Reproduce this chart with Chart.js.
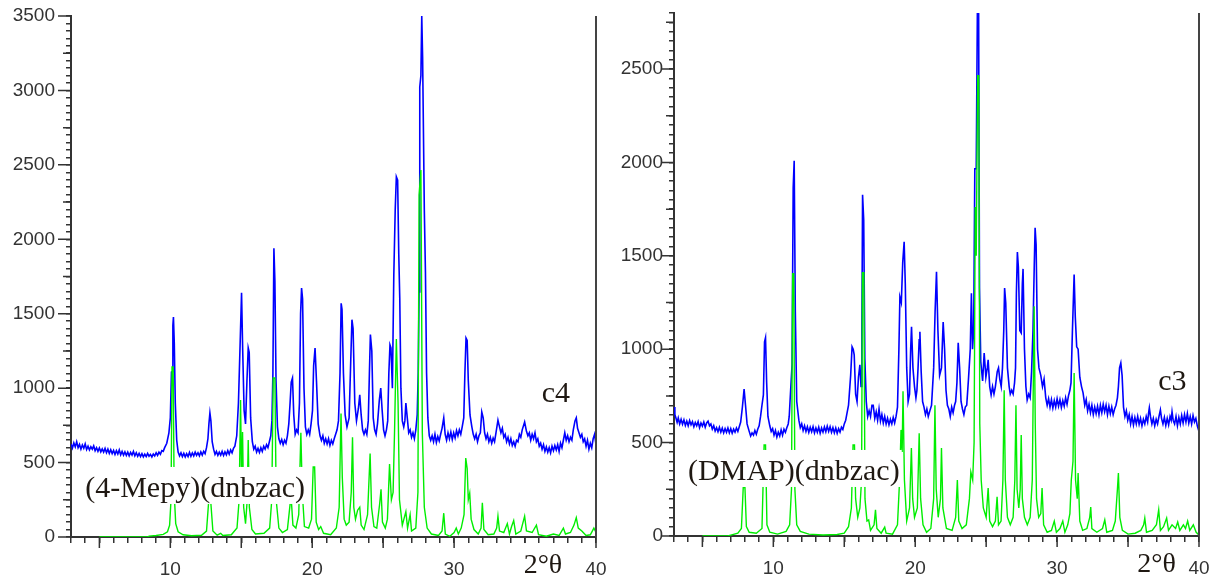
<!DOCTYPE html>
<html>
<head>
<meta charset="utf-8">
<script src="https://cdn.jsdelivr.net/npm/chart.js@4.4.1/dist/chart.umd.min.js"></script>
<style>
  html, body { margin: 0; padding: 0; background: #fff; }
  body { width: 1220px; height: 581px; position: relative; overflow: hidden; }
  .panel { position: absolute; top: 0; width: 610px; height: 581px; }
  #panelC4 { left: 0; }
  #panelC3 { left: 603px; }
</style>
</head>
<body>
<div class="panel" id="panelC4"><canvas id="chartC4"></canvas></div>
<div class="panel" id="panelC3"><canvas id="chartC3"></canvas></div>
<script>
// tick labels
const xLabelValues = [10, 20, 30, 40];
const xMajorTicks = [5, 10, 15, 20, 25, 30, 35, 40];
const c4YLabels = [0, 500, 1000, 1500, 2000, 2500, 3000, 3500];
const c3YLabels = [0, 500, 1000, 1500, 2000, 2500];

// c4 : measured pattern (2θ, counts)
const c4Measured = [
  [3.0,625],[3.1,598],[3.2,632],[3.3,605],[3.4,640],[3.5,600],[3.6,622],[3.7,590],[3.8,618],[3.9,596],
  [4.0,625],[4.1,588],[4.2,610],[4.3,585],[4.4,606],[4.5,590],[4.6,612],[4.7,580],[4.8,600],[4.9,575],
  [5.0,598],[5.1,572],[5.2,592],[5.3,570],[5.4,595],[5.5,566],[5.6,590],[5.7,562],[5.8,586],[5.9,560],
  [6.0,582],[6.1,555],[6.2,580],[6.3,558],[6.4,585],[6.5,552],[6.6,575],[6.7,550],[6.8,572],[6.9,548],
  [7.0,570],[7.1,545],[7.2,568],[7.3,550],[7.4,575],[7.5,545],[7.6,566],[7.7,542],[7.8,562],[7.9,540],
  [8.0,560],[8.1,538],[8.2,556],[8.3,540],[8.4,562],[8.5,542],[8.6,555],[8.7,538],[8.8,558],[8.9,545],
  [9.0,566],[9.1,548],[9.2,570],[9.3,556],[9.4,580],[9.5,575],[9.6,600],[9.75,630],[9.9,700],[10.0,800],
  [10.08,1108],[10.13,1110],[10.18,1420],[10.22,1478],[10.28,1300],[10.35,900],[10.45,650],[10.55,570],[10.65,545],[10.75,565],
  [10.85,540],[10.95,562],[11.05,538],[11.15,560],[11.25,540],[11.35,568],[11.45,542],[11.55,565],[11.65,545],[11.75,570],
  [11.85,548],[11.95,566],[12.05,545],[12.15,572],[12.25,550],[12.35,576],[12.45,560],[12.55,600],[12.65,660],[12.72,760],
  [12.79,833],[12.86,780],[12.95,640],[13.05,590],[13.15,555],[13.25,575],[13.35,548],[13.45,570],[13.55,550],[13.65,575],
  [13.75,548],[13.85,572],[13.95,552],[14.05,580],[14.15,556],[14.25,585],[14.35,565],[14.45,595],[14.55,610],[14.68,680],
  [14.8,900],[14.92,1300],[15.02,1640],[15.1,1256],[15.2,850],[15.3,760],[15.4,1050],[15.49,1270],[15.56,1240],[15.66,800],
  [15.78,640],[15.88,590],[15.98,610],[16.08,570],[16.18,595],[16.28,568],[16.38,600],[16.48,575],[16.58,610],[16.68,590],
  [16.78,620],[16.88,600],[16.98,640],[17.08,680],[17.16,780],[17.23,1100],[17.3,1940],[17.37,1720],[17.45,1050],[17.55,740],
  [17.65,660],[17.75,630],[17.85,655],[17.95,620],[18.05,650],[18.15,630],[18.25,680],[18.35,760],[18.44,900],[18.52,1040],
  [18.61,1068],[18.7,820],[18.8,690],[18.9,720],[19.0,700],[19.1,900],[19.18,1500],[19.25,1672],[19.32,1600],[19.42,1000],
  [19.52,740],[19.62,690],[19.72,720],[19.82,690],[19.92,760],[20.02,850],[20.1,1150],[20.2,1270],[20.3,1050],[20.42,760],
  [20.55,680],[20.65,650],[20.75,680],[20.85,630],[20.95,660],[21.05,625],[21.15,660],[21.25,615],[21.35,650],[21.45,625],
  [21.55,660],[21.65,690],[21.75,720],[21.85,780],[21.96,1100],[22.04,1570],[22.1,1530],[22.2,1100],[22.32,820],[22.45,740],
  [22.6,800],[22.72,1200],[22.8,1460],[22.88,1400],[23.0,900],[23.12,780],[23.25,860],[23.35,955],[23.45,820],[23.55,720],
  [23.65,690],[23.75,720],[23.85,690],[23.95,780],[24.03,1100],[24.1,1360],[24.2,1250],[24.3,800],[24.4,720],[24.5,690],
  [24.6,760],[24.73,920],[24.83,1000],[24.93,850],[25.03,720],[25.13,680],[25.23,720],[25.32,780],[25.4,1100],[25.48,1290],
  [25.55,1270],[25.65,1000],[25.75,1760],[25.85,2200],[25.93,2420],[26.02,2398],[26.1,1900],[26.17,1605],[26.25,1000],[26.35,780],
  [26.45,740],[26.53,780],[26.6,900],[26.7,800],[26.8,700],[26.9,720],[27.0,670],[27.1,700],[27.2,660],[27.3,720],
  [27.4,820],[27.47,1100],[27.53,1646],[27.58,3023],[27.66,3100],[27.72,3500],[27.78,3224],[27.9,2200],[27.98,1780],[28.06,1100],
  [28.15,800],[28.25,680],[28.35,650],[28.45,680],[28.55,640],[28.65,690],[28.75,635],[28.85,675],[28.95,645],[29.05,690],
  [29.15,730],[29.27,800],[29.37,690],[29.47,650],[29.57,700],[29.67,660],[29.77,705],[29.87,655],[29.97,700],[30.07,665],
  [30.17,715],[30.27,680],[30.37,720],[30.47,690],[30.57,740],[30.68,800],[30.76,1100],[30.84,1336],[30.92,1320],[31.0,1050],
  [31.12,820],[31.25,740],[31.35,690],[31.45,660],[31.55,690],[31.65,640],[31.75,680],[31.85,700],[31.95,840],[32.05,800],
  [32.15,700],[32.25,660],[32.35,690],[32.45,640],[32.55,670],[32.65,630],[32.75,665],[32.85,640],[32.95,700],[33.09,785],
  [33.2,740],[33.3,700],[33.4,730],[33.5,670],[33.6,690],[33.7,640],[33.8,670],[33.9,625],[34.0,660],[34.1,615],
  [34.2,640],[34.3,610],[34.4,650],[34.5,640],[34.6,690],[34.7,670],[34.8,720],[34.97,772],[35.1,710],[35.2,680],
  [35.3,700],[35.4,650],[35.5,690],[35.6,660],[35.7,700],[35.8,640],[35.9,660],[36.0,610],[36.1,630],[36.2,590],
  [36.3,620],[36.4,575],[36.5,605],[36.6,570],[36.7,600],[36.8,565],[36.9,610],[37.0,580],[37.1,615],[37.2,585],
  [37.3,620],[37.4,575],[37.5,630],[37.6,600],[37.7,650],[37.8,700],[37.9,650],[38.0,680],[38.1,640],[38.2,670],
  [38.3,650],[38.4,720],[38.52,780],[38.61,800],[38.7,730],[38.8,700],[38.9,670],[39.0,690],[39.1,640],[39.2,660],
  [39.3,610],[39.4,650],[39.5,590],[39.6,630],[39.7,600],[39.8,660],[39.9,690],[40.0,620]
];

// c4 : simulated pattern
const c4Simulated = [
  [5.0,0],[8.4,0],[8.5,6],[9.0,10],[9.5,18],[9.8,35],[9.95,80],[10.05,250],[10.12,1142],[10.2,1142],
  [10.27,300],[10.38,90],[10.55,35],[10.9,15],[11.5,8],[12.2,12],[12.55,40],[12.7,235],[12.85,235],[13.0,40],
  [13.3,12],[13.55,25],[13.7,10],[14.3,15],[14.7,60],[14.85,250],[14.95,920],[15.03,300],[15.09,705],[15.17,200],
  [15.3,90],[15.42,250],[15.49,652],[15.57,200],[15.75,50],[16.0,20],[16.6,25],[17.0,60],[17.15,250],[17.25,1068],
  [17.37,1068],[17.46,250],[17.65,60],[17.9,30],[18.25,50],[18.45,228],[18.54,228],[18.64,80],[18.85,60],[19.05,150],
  [19.2,700],[19.3,300],[19.45,70],[19.75,60],[19.95,120],[20.07,470],[20.17,470],[20.28,100],[20.45,50],[20.6,70],
  [20.8,25],[21.3,15],[21.7,60],[21.9,200],[22.03,830],[22.12,400],[22.25,120],[22.4,80],[22.6,100],[22.75,300],
  [22.84,670],[22.93,200],[23.05,120],[23.2,180],[23.35,200],[23.45,80],[23.65,50],[23.9,150],[24.08,560],[24.18,200],
  [24.35,70],[24.55,60],[24.75,220],[24.85,320],[24.95,100],[25.15,60],[25.3,120],[25.45,490],[25.58,250],[25.7,300],
  [25.8,700],[25.93,1330],[26.05,900],[26.15,250],[26.35,80],[26.6,170],[26.72,60],[26.9,150],[27.0,40],[27.3,60],
  [27.45,300],[27.53,2297],[27.66,2465],[27.76,700],[27.9,200],[28.1,60],[28.4,20],[28.9,10],[29.15,40],[29.27,160],
  [29.38,20],[29.7,5],[30.0,30],[30.15,60],[30.3,20],[30.5,60],[30.7,150],[30.82,530],[30.92,460],[31.0,250],
  [31.1,295],[31.2,120],[31.4,50],[31.7,20],[31.9,60],[31.99,230],[32.1,50],[32.4,15],[32.8,20],[33.0,60],
  [33.09,140],[33.2,40],[33.5,30],[33.75,90],[33.9,20],[34.05,70],[34.2,110],[34.35,20],[34.7,40],[34.97,140],
  [35.1,40],[35.5,30],[35.8,80],[35.95,15],[36.5,5],[37.0,20],[37.4,10],[37.7,60],[37.85,20],[38.2,30],
  [38.45,80],[38.61,130],[38.75,60],[39.0,40],[39.3,10],[39.6,15],[39.85,60],[40.0,30]
];

// c3 : measured pattern
const c3Measured = [
  [3.0,690],[3.06,650],[3.14,630],[3.22,608],[3.3,632],[3.4,600],[3.5,625],[3.6,598],[3.7,622],[3.8,592],
  [3.9,615],[4.0,590],[4.1,618],[4.2,595],[4.3,612],[4.4,585],[4.5,608],[4.6,590],[4.7,612],[4.8,580],
  [4.9,605],[5.0,588],[5.1,610],[5.2,582],[5.3,605],[5.4,615],[5.5,590],[5.6,600],[5.7,572],[5.8,590],
  [5.9,562],[6.0,580],[6.1,558],[6.2,582],[6.3,556],[6.4,578],[6.5,552],[6.6,575],[6.7,555],[6.8,578],
  [6.9,552],[7.0,575],[7.1,550],[7.2,572],[7.3,556],[7.4,578],[7.5,560],[7.6,585],[7.7,610],[7.82,690],
  [7.94,787],[8.04,700],[8.15,600],[8.3,560],[8.4,535],[8.5,552],[8.6,540],[8.7,565],[8.8,545],[8.9,572],
  [9.0,590],[9.1,640],[9.2,700],[9.3,755],[9.38,1040],[9.45,1062],[9.53,820],[9.62,640],[9.75,590],[9.85,560],
  [9.95,575],[10.05,540],[10.15,565],[10.25,530],[10.35,555],[10.45,535],[10.55,568],[10.65,540],[10.75,572],[10.85,555],
  [10.95,580],[11.05,600],[11.12,640],[11.22,780],[11.32,916],[11.4,1864],[11.47,2009],[11.55,1200],[11.65,720],[11.8,620],
  [11.9,580],[12.0,600],[12.1,565],[12.2,590],[12.3,560],[12.4,585],[12.5,555],[12.6,582],[12.7,558],[12.8,585],
  [12.9,552],[13.0,578],[13.1,555],[13.2,582],[13.3,550],[13.4,578],[13.5,556],[13.6,584],[13.7,558],[13.8,588],
  [13.9,560],[14.0,585],[14.1,555],[14.2,580],[14.3,552],[14.4,578],[14.5,550],[14.6,575],[14.7,556],[14.8,582],
  [14.9,570],[15.0,600],[15.1,620],[15.2,660],[15.3,700],[15.45,860],[15.55,1013],[15.63,1000],[15.7,970],[15.8,760],
  [15.9,720],[16.0,850],[16.1,916],[16.18,800],[16.24,1100],[16.29,1827],[16.37,1693],[16.45,950],[16.55,720],[16.65,640],
  [16.75,670],[16.85,640],[16.95,700],[17.04,700],[17.15,630],[17.25,665],[17.35,620],[17.45,680],[17.55,615],[17.65,650],
  [17.75,605],[17.85,640],[17.95,600],[18.05,630],[18.15,595],[18.25,625],[18.35,600],[18.45,635],[18.55,605],[18.65,640],
  [18.75,690],[18.85,1000],[18.92,1280],[19.02,1250],[19.12,1465],[19.22,1575],[19.3,1350],[19.4,900],[19.5,720],[19.6,760],
  [19.68,1000],[19.74,1120],[19.84,900],[19.95,800],[20.05,740],[20.12,780],[20.2,900],[20.28,1050],[20.33,1093],[20.42,880],
  [20.52,720],[20.62,690],[20.72,650],[20.82,680],[20.92,640],[21.03,670],[21.15,700],[21.3,900],[21.4,1200],[21.5,1414],
  [21.6,1100],[21.72,860],[21.85,900],[21.97,1146],[22.07,1000],[22.17,780],[22.27,700],[22.37,680],[22.47,640],[22.57,690],
  [22.67,660],[22.77,700],[22.85,720],[22.94,820],[23.03,1034],[23.13,900],[23.23,720],[23.33,680],[23.43,650],[23.53,690],
  [23.63,700],[23.75,836],[23.88,1000],[23.96,1300],[24.04,1000],[24.12,1100],[24.2,1966],[24.3,1966],[24.38,2800],[24.47,2800],
  [24.53,1328],[24.62,933],[24.75,830],[24.86,980],[24.98,850],[25.08,900],[25.14,943],[25.25,800],[25.35,755],[25.45,800],
  [25.55,760],[25.65,800],[25.78,880],[25.87,900],[25.96,840],[26.06,800],[26.15,900],[26.24,1100],[26.3,1328],[26.38,1248],
  [26.5,900],[26.62,800],[26.7,760],[26.8,780],[26.9,760],[27.0,820],[27.07,900],[27.13,1300],[27.2,1520],[27.27,1440],
  [27.37,1100],[27.47,1087],[27.55,1350],[27.6,1430],[27.7,1000],[27.8,800],[27.89,728],[28.0,760],[28.1,740],[28.2,880],
  [28.3,1100],[28.39,1450],[28.45,1650],[28.52,1560],[28.62,1000],[28.72,900],[28.85,860],[28.97,800],[29.08,840],[29.2,740],
  [29.3,700],[29.4,735],[29.5,690],[29.6,730],[29.7,685],[29.8,725],[29.9,690],[30.0,735],[30.1,695],[30.2,730],
  [30.3,688],[30.4,725],[30.5,695],[30.6,740],[30.7,705],[30.8,750],[30.9,780],[30.98,820],[31.08,1100],[31.2,1400],
  [31.28,1175],[31.38,1013],[31.48,1000],[31.6,850],[31.72,800],[31.83,766],[31.95,700],[32.05,730],[32.15,670],[32.25,705],
  [32.35,660],[32.45,700],[32.55,650],[32.65,690],[32.75,655],[32.85,695],[32.95,650],[33.05,700],[33.15,660],[33.25,705],
  [33.35,665],[33.45,700],[33.55,650],[33.65,695],[33.75,655],[33.85,690],[33.95,650],[34.05,680],[34.15,700],[34.25,740],
  [34.32,800],[34.4,900],[34.49,926],[34.58,860],[34.68,690],[34.78,640],[34.88,670],[34.98,620],[35.08,650],[35.18,600],
  [35.28,640],[35.38,595],[35.48,635],[35.58,600],[35.68,640],[35.78,598],[35.88,630],[35.98,590],[36.08,625],[36.18,600],
  [36.28,640],[36.38,610],[36.45,660],[36.5,686],[36.58,640],[36.68,600],[36.78,630],[36.88,590],[36.98,625],[37.08,600],
  [37.18,640],[37.28,675],[37.36,630],[37.46,600],[37.56,635],[37.66,592],[37.76,630],[37.86,595],[37.96,640],[38.04,620],
  [38.1,665],[38.18,620],[38.28,600],[38.38,640],[38.48,590],[38.58,635],[38.68,600],[38.78,645],[38.88,605],[38.98,650],
  [39.08,610],[39.18,655],[39.28,605],[39.38,640],[39.48,600],[39.58,645],[39.68,610],[39.78,630],[39.88,590],[40.0,560]
];

// c3 : simulated pattern
const c3Simulated = [
  [5.0,0],[6.8,0],[7.0,5],[7.5,15],[7.75,40],[7.88,260],[8.0,260],[8.1,50],[8.3,20],[8.8,15],
  [9.2,40],[9.35,487],[9.45,487],[9.55,60],[9.75,20],[10.3,10],[10.9,25],[11.15,60],[11.28,250],[11.36,1404],
  [11.44,1404],[11.52,250],[11.65,60],[11.9,25],[12.5,10],[13.5,5],[14.5,8],[15.0,15],[15.3,50],[15.5,150],
  [15.62,487],[15.72,487],[15.8,200],[15.95,100],[16.1,150],[16.22,300],[16.28,1410],[16.38,1410],[16.46,200],[16.6,80],
  [16.72,86],[16.85,30],[17.1,60],[17.2,140],[17.3,40],[17.6,15],[17.85,48],[17.95,15],[18.4,10],[18.75,60],
  [18.9,300],[19.0,568],[19.08,450],[19.14,775],[19.24,300],[19.4,80],[19.6,150],[19.73,471],[19.82,200],[19.95,100],
  [20.15,150],[20.28,550],[20.38,200],[20.55,60],[20.8,20],[21.1,40],[21.3,200],[21.39,700],[21.48,250],[21.62,100],
  [21.78,200],[21.85,471],[21.95,150],[22.2,40],[22.6,30],[22.85,100],[22.97,300],[23.07,80],[23.3,40],[23.6,60],
  [23.82,200],[23.92,343],[24.05,300],[24.15,500],[24.23,1762],[24.3,1500],[24.4,2464],[24.48,2464],[24.55,600],[24.65,300],
  [24.8,150],[25.0,100],[25.14,257],[25.25,80],[25.45,50],[25.65,80],[25.77,210],[25.87,60],[26.05,80],[26.18,300],
  [26.27,780],[26.35,300],[26.5,100],[26.7,60],[26.9,100],[27.02,300],[27.1,700],[27.18,250],[27.3,150],[27.4,250],
  [27.47,540],[27.55,200],[27.7,100],[27.9,60],[28.1,100],[28.25,300],[28.38,1230],[28.46,600],[28.55,200],[28.7,100],
  [28.85,120],[28.94,257],[29.05,60],[29.3,20],[29.6,30],[29.8,80],[29.95,20],[30.2,40],[30.4,80],[30.55,20],
  [30.75,60],[30.9,120],[31.0,300],[31.12,400],[31.2,873],[31.3,300],[31.42,200],[31.48,337],[31.6,80],[31.8,30],
  [32.1,40],[32.3,100],[32.37,155],[32.45,40],[32.8,20],[33.2,40],[33.36,86],[33.5,20],[33.9,30],[34.1,80],
  [34.25,250],[34.32,337],[34.42,100],[34.6,30],[35.0,10],[35.5,15],[35.9,30],[36.1,60],[36.18,96],[36.3,20],
  [36.7,30],[37.0,60],[37.16,140],[37.28,30],[37.5,50],[37.72,96],[37.85,30],[38.1,60],[38.35,40],[38.5,75],
  [38.65,30],[38.9,60],[39.05,40],[39.2,80],[39.35,30],[39.6,60],[39.8,20],[40.0,5]
];

const measuredColor = '#0000ff';
const simulatedColor = '#00ee00';
const axisColor = '#333333';
const tickFont = { family: '"Liberation Sans", Arial, sans-serif', size: 19 };

// extra tick lengths and the right-hand frame line
const frameMarks = {
  id: 'frameMarks',
  afterDatasetsDraw(chart) {
    const { ctx, chartArea: a, scales: { x, y } } = chart;
    ctx.save();
    ctx.strokeStyle = axisColor;
    ctx.lineWidth = 1.5;
    ctx.beginPath();
    xMajorTicks.forEach(v => {
      const px = x.getPixelForValue(v);
      ctx.moveTo(px, a.bottom);
      ctx.lineTo(px, a.bottom + 11);
    });
    for (let v = 0; v <= y.max; v += 250) {
      const py = y.getPixelForValue(v);
      const len = v % 500 === 0 ? 13 : 8;
      ctx.moveTo(a.left, py);
      ctx.lineTo(a.left - len, py);
    }
    ctx.stroke();
    ctx.strokeStyle = '#444';
    ctx.lineWidth = 2;
    ctx.beginPath();
    ctx.moveTo(a.right, a.top);
    ctx.lineTo(a.right, a.bottom);
    ctx.stroke();
    ctx.restore();
  }
};

// sample names and axis symbol, on white boxes
const notes = {
  id: 'notes',
  afterDraw(chart, args, opts) {
    const { ctx, scales: { x, y } } = chart;
    ctx.save();
    ctx.textBaseline = 'alphabetic';
    (opts.items || []).forEach(n => {
      ctx.font = (n.size || 30) + 'px "Liberation Serif", "Times New Roman", serif';
      const px = x.getPixelForValue(n.x);
      const py = y.getPixelForValue(n.y);
      const w = ctx.measureText(n.text).width;
      ctx.fillStyle = '#fff';
      ctx.fillRect(px - 2, py - 30, w + 4, 37);
      ctx.fillStyle = '#1f1812';
      ctx.fillText(n.text, px, py);
    });
    ctx.restore();
  }
};

function buildChart(canvasId, measured, simulated, yMax, yLabels, frame, items) {
  return new Chart(document.getElementById(canvasId), {
    type: 'line',
    data: {
      datasets: [
        { label: 'simulated', data: simulated, borderColor: simulatedColor, borderWidth: 1.4,
          pointRadius: 0, tension: 0, fill: false, order: 1 },
        { label: 'measured', data: measured, borderColor: measuredColor, borderWidth: 1.6,
          pointRadius: 0, tension: 0, fill: false, order: 2 }
      ]
    },
    options: {
      animation: false,
      responsive: true,
      maintainAspectRatio: false,
      events: [],
      layout: { padding: { top: frame.top, right: 14, left: 0, bottom: 0 } },
      plugins: {
        legend: { display: false },
        tooltip: { enabled: false },
        notes: { items: items }
      },
      scales: {
        x: {
          type: 'linear', min: 3, max: 40,
          afterFit: s => { s.height = frame.xAxisHeight; s.paddingLeft = 0; s.paddingRight = 0; },
          border: { color: axisColor, width: 2 },
          grid: { drawOnChartArea: false, tickLength: 6, color: axisColor, lineWidth: 1.5 },
          ticks: {
            stepSize: 1, autoSkip: false, maxRotation: 0, padding: 15,
            color: axisColor, font: tickFont,
            callback: v => xLabelValues.includes(v) ? String(v) : ''
          }
        },
        y: {
          type: 'linear', min: 0, max: yMax,
          afterFit: s => { s.width = 71; s.paddingTop = 0; s.paddingBottom = 0; },
          border: { color: axisColor, width: 2 },
          grid: { drawOnChartArea: false, tickLength: 5, color: axisColor, lineWidth: 1.5 },
          ticks: {
            stepSize: 50, autoSkip: false, padding: frame.yPad,
            color: axisColor, font: tickFont,
            callback: v => yLabels.includes(v) ? String(v) : ''
          }
        }
      }
    },
    plugins: [frameMarks, notes]
  });
}

buildChart('chartC4', c4Measured, c4Simulated, 3500, c4YLabels,
  { top: 16, xAxisHeight: 44, yPad: 11 },
  [
    { text: '(4-Mepy)(dnbzac)', x: 4.0, y: 269 },
    { text: 'c4', x: 36.17, y: 907 },
    { text: '2°θ', x: 34.9, y: -242, size: 28 }
  ]);

buildChart('chartC3', c3Measured, c3Simulated, 2800, c3YLabels,
  { top: 13, xAxisHeight: 45, yPad: 6 },
  [
    { text: '(DMAP)(dnbzac)', x: 3.99, y: 300 },
    { text: 'c3', x: 37.13, y: 782 },
    { text: '2°θ', x: 35.65, y: -193, size: 28 }
  ]);
</script>
</body>
</html>
